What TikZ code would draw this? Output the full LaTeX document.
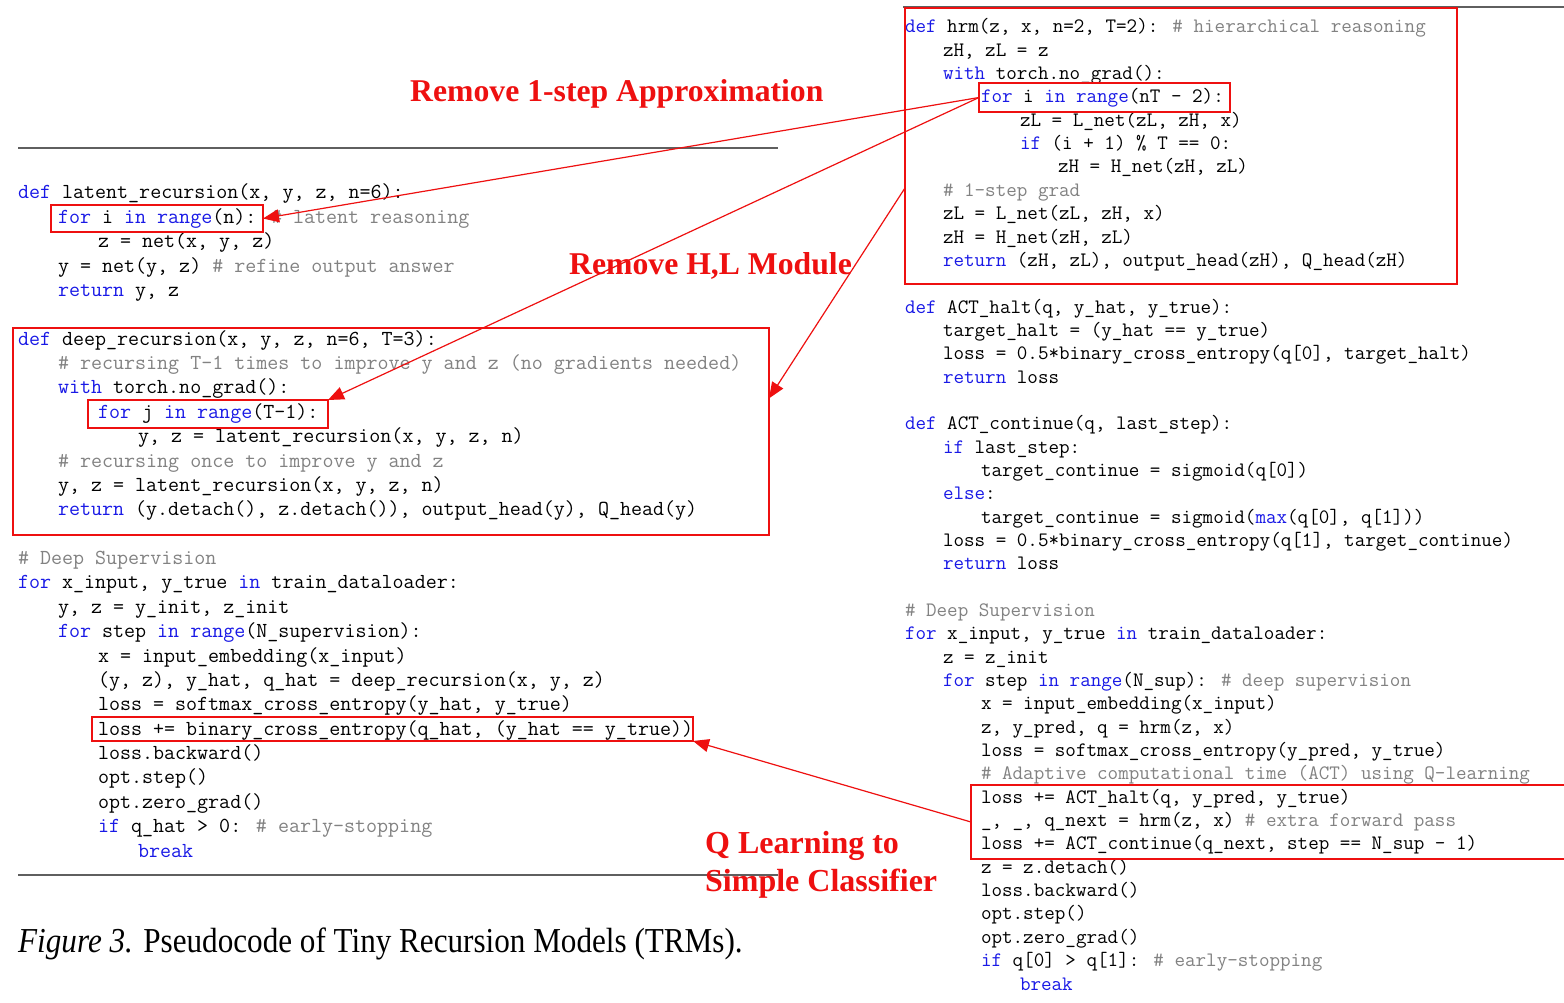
\documentclass[tikz,border=0pt]{standalone}
\usepackage{fontspec}
\setmainfont{Liberation Serif}
\usetikzlibrary{arrows.meta,calc}
\definecolor{kwblue}{RGB}{25,25,230}
\definecolor{cmgray}{RGB}{130,130,130}
\definecolor{rulegray}{RGB}{95,95,95}
\definecolor{annred}{RGB}{238,16,16}
\newcommand\kw[1]{\textcolor{kwblue}{#1}}
\newcommand\cm[1]{\textcolor{cmgray}{#1}}
\tikzset{
  codeL/.style={anchor=base west, inner sep=0pt, outer sep=0pt, font=\fontsize{21.4}{24}\selectfont\ttfamily},
  codeR/.style={anchor=base west, inner sep=0pt, outer sep=0pt, font=\fontsize{20.5}{23}\selectfont\ttfamily},
  hlbox/.style={draw=annred, line width=2.4pt, inner sep=0pt, outer sep=0pt, anchor=north west},
  arr/.style={draw=annred, line width=1.2pt, -{Triangle[length=16pt,width=13pt]}},
  lab/.style={anchor=base west, inner sep=0pt, text=annred, font=\fontsize{31.7}{36}\selectfont\bfseries},
  rulel/.style={draw=rulegray, line width=1.8pt},
}
\begin{document}
\begin{tikzpicture}[x=1pt,y=-1pt]
\fill[white] (0,0) rectangle (1564,1003);
\useasboundingbox (0,0) rectangle (1564,1003);

% rules
\draw[rulel] (18,148) -- (778,148);
\draw[rulel] (18,875) -- (778,875);
\draw[rulel] (903,7) -- (1564,7);

% ---------------- left code ----------------
\node[codeL] (l0)  at (18,199)   {\kw{def} latent\_recursion(x, y, z, n=6):};
\node[codeL] (l1)  at (58,223.4) {\kw{for} i \kw{in} \kw{range}(n): \cm{\# latent reasoning}};
\node[codeL] (l2)  at (98,247.7) {z = net(x, y, z)};
\node[codeL] (l3)  at (58,272.1) {y = net(y, z) \cm{\# refine output answer}};
\node[codeL] (l4)  at (58,296.5) {\kw{return} y, z};
\node[codeL] (l6)  at (18,345.2) {\kw{def} deep\_recursion(x, y, z, n=6, T=3):};
\node[codeL] (l7)  at (58,369.6) {\cm{\# recursing T-1 times to improve y and z (no gradients needed)}};
\node[codeL] (l8)  at (58,393.9) {\kw{with} torch.no\_grad():};
\node[codeL] (l9)  at (98,418.3) {\kw{for} j \kw{in} \kw{range}(T-1):};
\node[codeL] (l10) at (138,442.7) {y, z = latent\_recursion(x, y, z, n)};
\node[codeL] (l11) at (58,467.1) {\cm{\# recursing once to improve y and z}};
\node[codeL] (l12) at (58,491.4) {y, z = latent\_recursion(x, y, z, n)};
\node[codeL] (l13) at (58,515.8) {\kw{return} (y.detach(), z.detach()), output\_head(y), Q\_head(y)};
\node[codeL] (l15) at (18,564.6) {\cm{\# Deep Supervision}};
\node[codeL] (l16) at (18,588.9) {\kw{for} x\_input, y\_true \kw{in} train\_dataloader:};
\node[codeL] (l17) at (58,613.3) {y, z = y\_init, z\_init};
\node[codeL] (l18) at (58,637.7) {\kw{for} step \kw{in} \kw{range}(N\_supervision):};
\node[codeL] (l19) at (98,662.0) {x = input\_embedding(x\_input)};
\node[codeL] (l20) at (98,686.4) {(y, z), y\_hat, q\_hat = deep\_recursion(x, y, z)};
\node[codeL] (l21) at (98,710.8) {loss = softmax\_cross\_entropy(y\_hat, y\_true)};
\node[codeL] (l22) at (98,735.1) {loss += binary\_cross\_entropy(q\_hat, (y\_hat == y\_true))};
\node[codeL] (l23) at (98,759.5) {loss.backward()};
\node[codeL] (l24) at (98,783.9) {opt.step()};
\node[codeL] (l25) at (98,808.3) {opt.zero\_grad()};
\node[codeL] (l26) at (98,832.6) {\kw{if} q\_hat > 0: \cm{\# early-stopping}};
\node[codeL] (l27) at (138,857)  {\kw{break}};

% ---------------- right code ----------------
\node[codeR] (r0)  at (905,33)    {\kw{def} hrm(z, x, n=2, T=2): \cm{\# hierarchical reasoning}};
\node[codeR] (r1)  at (943,56.3)  {zH, zL = z};
\node[codeR] (r2)  at (943,79.7)  {\kw{with} torch.no\_grad():};
\node[codeR] (r3)  at (981,103.0) {\kw{for} i \kw{in} \kw{range}(nT - 2):};
\node[codeR] (r4)  at (1020,126.4) {zL = L\_net(zL, zH, x)};
\node[codeR] (r5)  at (1020,149.7) {\kw{if} (i + 1) \% T == 0:};
\node[codeR] (r6)  at (1058,173.0) {zH = H\_net(zH, zL)};
\node[codeR] (r7)  at (943,196.4) {\cm{\# 1-step grad}};
\node[codeR] (r8)  at (943,219.7) {zL = L\_net(zL, zH, x)};
\node[codeR] (r9)  at (943,243.1) {zH = H\_net(zH, zL)};
\node[codeR] (r10) at (943,266.4) {\kw{return} (zH, zL), output\_head(zH), Q\_head(zH)};
\node[codeR] (r12) at (905,313.1) {\kw{def} ACT\_halt(q, y\_hat, y\_true):};
\node[codeR] (r13) at (943,336.4) {target\_halt = (y\_hat == y\_true)};
\node[codeR] (r14) at (943,359.8) {loss = 0.5*binary\_cross\_entropy(q[0], target\_halt)};
\node[codeR] (r15) at (943,383.1) {\kw{return} loss};
\node[codeR] (r17) at (905,429.8) {\kw{def} ACT\_continue(q, last\_step):};
\node[codeR] (r18) at (943,453.1) {\kw{if} last\_step:};
\node[codeR] (r19) at (981,476.4) {target\_continue = sigmoid(q[0])};
\node[codeR] (r20) at (943,499.8) {\kw{else}:};
\node[codeR] (r21) at (981,523.1) {target\_continue = sigmoid(\kw{max}(q[0], q[1]))};
\node[codeR] (r22) at (943,546.5) {loss = 0.5*binary\_cross\_entropy(q[1], target\_continue)};
\node[codeR] (r23) at (943,569.8) {\kw{return} loss};
\node[codeR] (r25) at (905,616.5) {\cm{\# Deep Supervision}};
\node[codeR] (r26) at (905,639.8) {\kw{for} x\_input, y\_true \kw{in} train\_dataloader:};
\node[codeR] (r27) at (943,663.2) {z = z\_init};
\node[codeR] (r28) at (943,686.5) {\kw{for} step \kw{in} \kw{range}(N\_sup): \cm{\# deep supervision}};
\node[codeR] (r29) at (981,709.9) {x = input\_embedding(x\_input)};
\node[codeR] (r30) at (981,733.2) {z, y\_pred, q = hrm(z, x)};
\node[codeR] (r31) at (981,756.5) {loss = softmax\_cross\_entropy(y\_pred, y\_true)};
\node[codeR] (r32) at (981,779.9) {\cm{\# Adaptive computational time (ACT) using Q-learning}};
\node[codeR] (r33) at (981,803.2) {loss += ACT\_halt(q, y\_pred, y\_true)};
\node[codeR] (r34) at (981,826.6) {\_, \_, q\_next = hrm(z, x) \cm{\# extra forward pass}};
\node[codeR] (r35) at (981,849.9) {loss += ACT\_continue(q\_next, step == N\_sup - 1)};
\node[codeR] (r36) at (981,873.2) {z = z.detach()};
\node[codeR] (r37) at (981,896.6) {loss.backward()};
\node[codeR] (r38) at (981,919.9) {opt.step()};
\node[codeR] (r39) at (981,943.3) {opt.zero\_grad()};
\node[codeR] (r40) at (981,966.6) {\kw{if} q[0] > q[1]: \cm{\# early-stopping}};
\node[codeR] (r41) at (1020,990) {\kw{break}};

% ---------------- red boxes ----------------
\node[hlbox, minimum width=212pt, minimum height=27pt] (lfor) at (51,205) {};
\node[hlbox, minimum width=756pt, minimum height=207pt] (deep) at (13,328) {};
\node[hlbox, minimum width=240pt, minimum height=28pt] (jfor) at (88,400) {};
\node[hlbox, minimum width=601pt, minimum height=24pt] (lossb) at (92,717) {};
\node[hlbox, minimum width=552pt, minimum height=276pt] (hrm) at (905,8) {};
\node[hlbox, minimum width=251pt, minimum height=29pt] (hfor) at (979,83) {};
\node[hlbox, minimum width=600pt, minimum height=74pt] (act) at (971,785) {};

% ---------------- labels ----------------
\node[lab] (t1) at (410,102) {Remove 1-step Approximation};
\node[lab] (t2) at (569,274) {Remove H,L Module};
\node[lab, font=\fontsize{32}{36}\selectfont\bfseries] (t3) at (705,853) {Q Learning to};
\node[lab, font=\fontsize{32}{36}\selectfont\bfseries] (t4) at (705,891) {Simple Classifier};

% ---------------- arrows ----------------
\draw[arr] (hfor.west) -- (lfor.east);
\draw[arr] (hfor.west) -- (jfor.north east);
\draw[arr] ($(hrm.north west)!0.652!(hrm.south west)$) -- ($(deep.north east)!0.34!(deep.south east)$);
\draw[arr] (act.west) -- (lossb.south east);

% ---------------- caption ----------------
\node[anchor=base west, inner sep=0pt, font=\fontsize{35}{40}\selectfont] (cap) at (18,952)
  {\scalebox{0.89}[1]{\textit{Figure 3.} Pseudocode of Tiny Recursion Models (TRMs).}};
\end{tikzpicture}
\end{document}
